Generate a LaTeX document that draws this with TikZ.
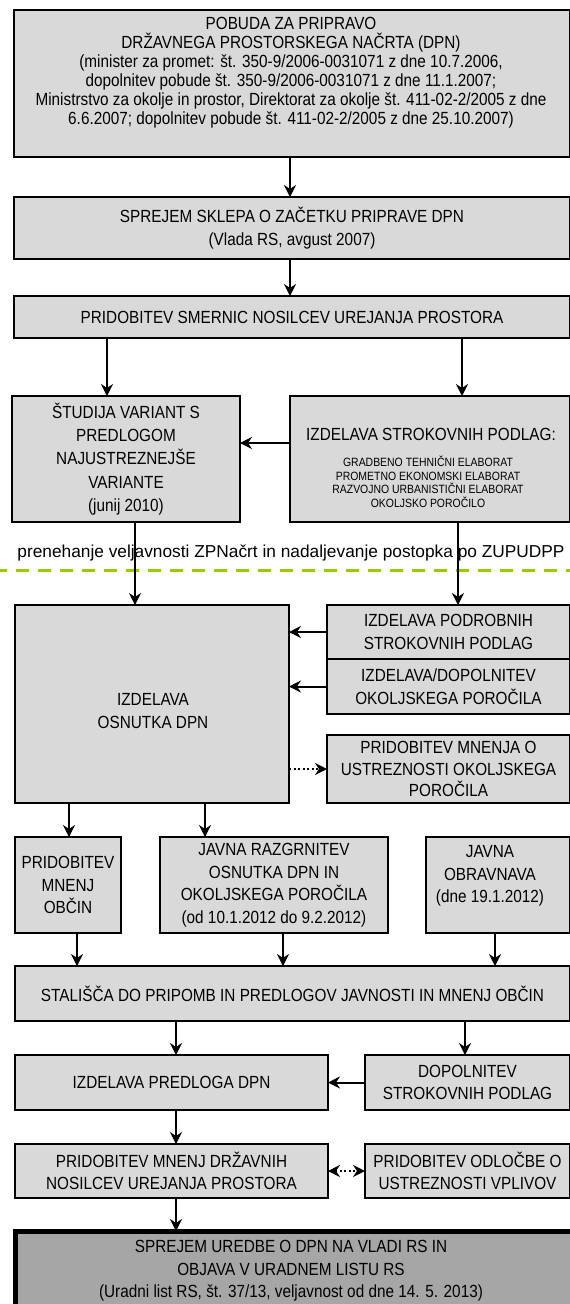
\documentclass[tikz,border=0pt]{standalone}
\usepackage{fontspec}
\setmainfont{Liberation Sans}
\newfontfamily\nfont[FakeStretch=0.87]{Liberation Sans}
\usetikzlibrary{arrows.meta}
\definecolor{boxgray}{RGB}{217,217,217}
\definecolor{darkbox}{RGB}{166,166,166}
\definecolor{dashgreen}{RGB}{153,204,0}
\begin{document}
\begin{tikzpicture}[x=1pt,y=-1pt,
  box/.style={draw=black, line width=1.6pt, fill=boxgray, inner sep=0pt, outer sep=0pt, anchor=north west, align=center, font=\nfont\fontsize{17.6}{22.5}\selectfont},
  txt/.style={align=center, inner sep=0pt, font=\nfont\fontsize{17.6}{22.5}\selectfont},
  small/.style={align=center, inner sep=0pt, font=\nfont\fontsize{12}{13.5}\selectfont},
  arr/.style={line width=2pt, -{Stealth[length=12pt,width=12pt,inset=4pt]}},
  dotarr/.style={line width=2pt, dash pattern=on 2pt off 2.5pt, -{Stealth[length=12pt,width=12pt,inset=4pt]}},
  dotdbl/.style={line width=2pt, dash pattern=on 2pt off 2.5pt, {Stealth[length=12pt,width=12pt,inset=4pt]}-{Stealth[length=12pt,width=12pt,inset=4pt]}},
  sep/.style={line width=3pt, draw=dashgreen, dash pattern=on 13pt off 9pt, dash phase=6pt}
]
\useasboundingbox (0,0) rectangle (570,1304);
\clip (0,0) rectangle (570,1304);

% boxes
\node[box, minimum width=556pt, minimum height=147pt] (b1) at (14,10) {};
\node[txt, font=\nfont\fontsize{17.6}{19}\selectfont] (t1) at (291,73) {POBUDA ZA PRIPRAVO\\DRŽAVNEGA PROSTORSKEGA NAČRTA (DPN)\\(minister za promet: št. 350-9/2006-0031071 z dne 10.7.2006,\\dopolnitev pobude št. 350-9/2006-0031071 z dne 11.1.2007;\\Ministrstvo za okolje in prostor, Direktorat za okolje št. 411-02-2/2005 z dne\\6.6.2007; dopolnitev pobude št. 411-02-2/2005 z dne 25.10.2007)};

\node[box, minimum width=556pt, minimum height=62pt] (b2) at (14,197) {SPREJEM SKLEPA O ZAČETKU PRIPRAVE DPN\\(Vlada RS, avgust 2007)};

\node[box, minimum width=556pt, minimum height=42pt] (b3) at (14,296) {PRIDOBITEV SMERNIC NOSILCEV UREJANJA PROSTORA};

\node[box, minimum width=228pt, minimum height=126pt, font=\nfont\fontsize{17.6}{23.3}\selectfont] (b4) at (12,396) {ŠTUDIJA VARIANT S\\PREDLOGOM\\NAJUSTREZNEJŠE\\VARIANTE\\(junij 2010)};

\node[box, minimum width=280pt, minimum height=126pt] (b5) at (290,396) {};
\node[txt] (t5a) at (431,434) {IZDELAVA STROKOVNIH PODLAG:};
\node[small] (t5b) at (428,482) {GRADBENO TEHNIČNI ELABORAT\\PROMETNO EKONOMSKI ELABORAT\\RAZVOJNO URBANISTIČNI ELABORAT\\OKOLJSKO POROČILO};

\node[inner sep=0pt, font=\fontsize{17.3}{20}\selectfont] (lab) at (291,553) {prenehanje veljavnosti ZPNačrt in nadaljevanje postopka po ZUPUDPP};
\coordinate (gl) at (0,570);
\coordinate (gr) at (570,570);
\draw[sep] (gl) -- (gr);

\node[box, minimum width=274pt, minimum height=198pt] (b6) at (15,605) {};
\node[txt] (t6) at (153,711) {IZDELAVA\\OSNUTKA DPN};

\node[box, minimum width=243pt, minimum height=54pt] (b7) at (327,605) {IZDELAVA PODROBNIH\\STROKOVNIH PODLAG};
\node[box, minimum width=243pt, minimum height=55pt] (b8) at (327,659) {IZDELAVA/DOPOLNITEV\\OKOLJSKEGA POROČILA};
\node[box, minimum width=243pt, minimum height=68pt, font=\nfont\fontsize{17.6}{21.5}\selectfont] (b9) at (327,735) {PRIDOBITEV MNENJA O\\USTREZNOSTI OKOLJSKEGA\\POROČILA};

\node[box, minimum width=106pt, minimum height=96pt] (b10) at (15,837) {PRIDOBITEV\\MNENJ\\OBČIN};
\node[box, minimum width=228pt, minimum height=96pt] (b11) at (160,837) {JAVNA RAZGRNITEV\\OSNUTKA DPN IN\\OKOLJSKEGA POROČILA\\(od 10.1.2012 do 9.2.2012)};
\node[box, minimum width=144pt, minimum height=96pt] (b12) at (426,837) {};
\node[txt] (t12) at (490,876) {JAVNA\\OBRAVNAVA\\(dne 19.1.2012)};

\node[box, minimum width=555pt, minimum height=55pt] (b13) at (15,966) {STALIŠČA DO PRIPOMB IN PREDLOGOV JAVNOSTI IN MNENJ OBČIN};

\node[box, minimum width=313pt, minimum height=55pt] (b14) at (15,1055) {IZDELAVA PREDLOGA DPN};
\node[box, minimum width=205pt, minimum height=55pt] (b15) at (365,1055) {DOPOLNITEV\\STROKOVNIH PODLAG};

\node[box, minimum width=313pt, minimum height=54pt] (b16) at (15,1144) {PRIDOBITEV MNENJ DRŽAVNIH\\NOSILCEV UREJANJA PROSTORA};
\node[box, minimum width=205pt, minimum height=54pt] (b17) at (365,1144) {PRIDOBITEV ODLOČBE O\\USTREZNOSTI VPLIVOV};

\node[box, line width=5pt, fill=darkbox, minimum width=565pt, minimum height=90pt] (b18) at (15.5,1231) {};
\node[txt] (t18) at (291,1271) {SPREJEM UREDBE O DPN NA VLADI RS IN\\OBJAVA V URADNEM LISTU RS\\(Uradni list RS, št. 37/13, veljavnost od dne 14. 5. 2013)};

% helper coordinates
\coordinate (x290) at (290,0);
\coordinate (x107) at (107,0);
\coordinate (x462) at (462,0);
\coordinate (x135) at (135,0);
\coordinate (x458) at (458,0);
\coordinate (x69) at (69,0);
\coordinate (x205) at (205,0);
\coordinate (x77) at (77,0);
\coordinate (x283) at (283,0);
\coordinate (x495) at (495,0);
\coordinate (x176) at (176,0);
\coordinate (x465) at (465,0);
\coordinate (y443) at (0,443);
\coordinate (y769) at (0,769);

% connectors
\draw[arr] (b1.south -| x290) -- (b2.north -| x290);
\draw[arr] (b2.south -| x290) -- (b3.north -| x290);
\draw[arr] (b3.south -| x107) -- (b4.north -| x107);
\draw[arr] (b3.south -| x462) -- (b5.north -| x462);
\draw[arr] (b5.west |- y443) -- (b4.east |- y443);
\draw[arr] (b4.south -| x135) -- (b6.north -| x135);
\draw[arr] (b5.south -| x458) -- (b7.north -| x458);
\draw[arr] (b7.west) -- (b7.west -| b6.east);
\draw[arr] (b8.west) -- (b8.west -| b6.east);
\draw[dotarr] (b6.east |- y769) -- (b9.west |- y769);
\draw[arr] (b6.south -| x69) -- (b10.north -| x69);
\draw[arr] (b6.south -| x205) -- (b11.north -| x205);
\draw[arr] (b10.south -| x77) -- (b13.north -| x77);
\draw[arr] (b11.south -| x283) -- (b13.north -| x283);
\draw[arr] (b12.south -| x495) -- (b13.north -| x495);
\draw[arr] (b13.south -| x176) -- (b14.north -| x176);
\draw[arr] (b13.south -| x465) -- (b15.north -| x465);
\draw[arr] (b15.west) -- (b15.west -| b14.east);
\draw[arr] (b14.south -| x176) -- (b16.north -| x176);
\draw[dotdbl] (b16.east) -- (b16.east -| b17.west);
\draw[arr] (b16.south -| x176) -- (b18.north -| x176);
\end{tikzpicture}
\end{document}
